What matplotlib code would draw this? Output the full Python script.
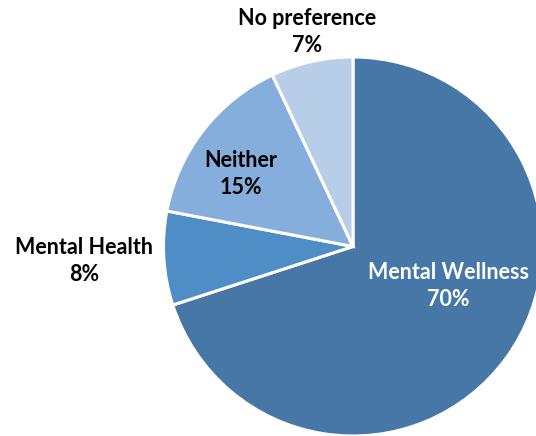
import matplotlib
matplotlib.use("Agg")
import matplotlib.pyplot as plt

categories = ["Mental Wellness", "Mental Health", "Neither", "No preference"]
values = [70, 8, 15, 7]
colors = ["#4677A7", "#4F8DC6", "#85AEDC", "#B7CDE8"]
label_colors = ["white", "black", "black", "black"]
# label anchor positions in pixel coords (x, y from top)
label_pos = [(448, 286), (84, 261), (241, 174), (307, 32)]

W, H = 536, 436
fig = plt.figure(figsize=(W / 100, H / 100), dpi=100)
ax = fig.add_axes([0, 0, 1, 1])
ax.pie(values, colors=colors, startangle=90, counterclock=False,
       center=(353, H - 246.5), radius=189.5,
       wedgeprops=dict(edgecolor="white", linewidth=2.2), frame=False)
ax.set_xlim(0, W)
ax.set_ylim(0, H)
ax.set_aspect("equal")
ax.axis("off")

for cat, v, (x, y), c in zip(categories, values, label_pos, label_colors):
    ax.text(x, H - y, f"{cat}\n{v}%", ha="center", va="center", color=c,
            fontsize=15.5, fontweight="bold", family=["Lato", "DejaVu Sans"],
            linespacing=1.3)

fig.savefig("out.png", dpi=100)
